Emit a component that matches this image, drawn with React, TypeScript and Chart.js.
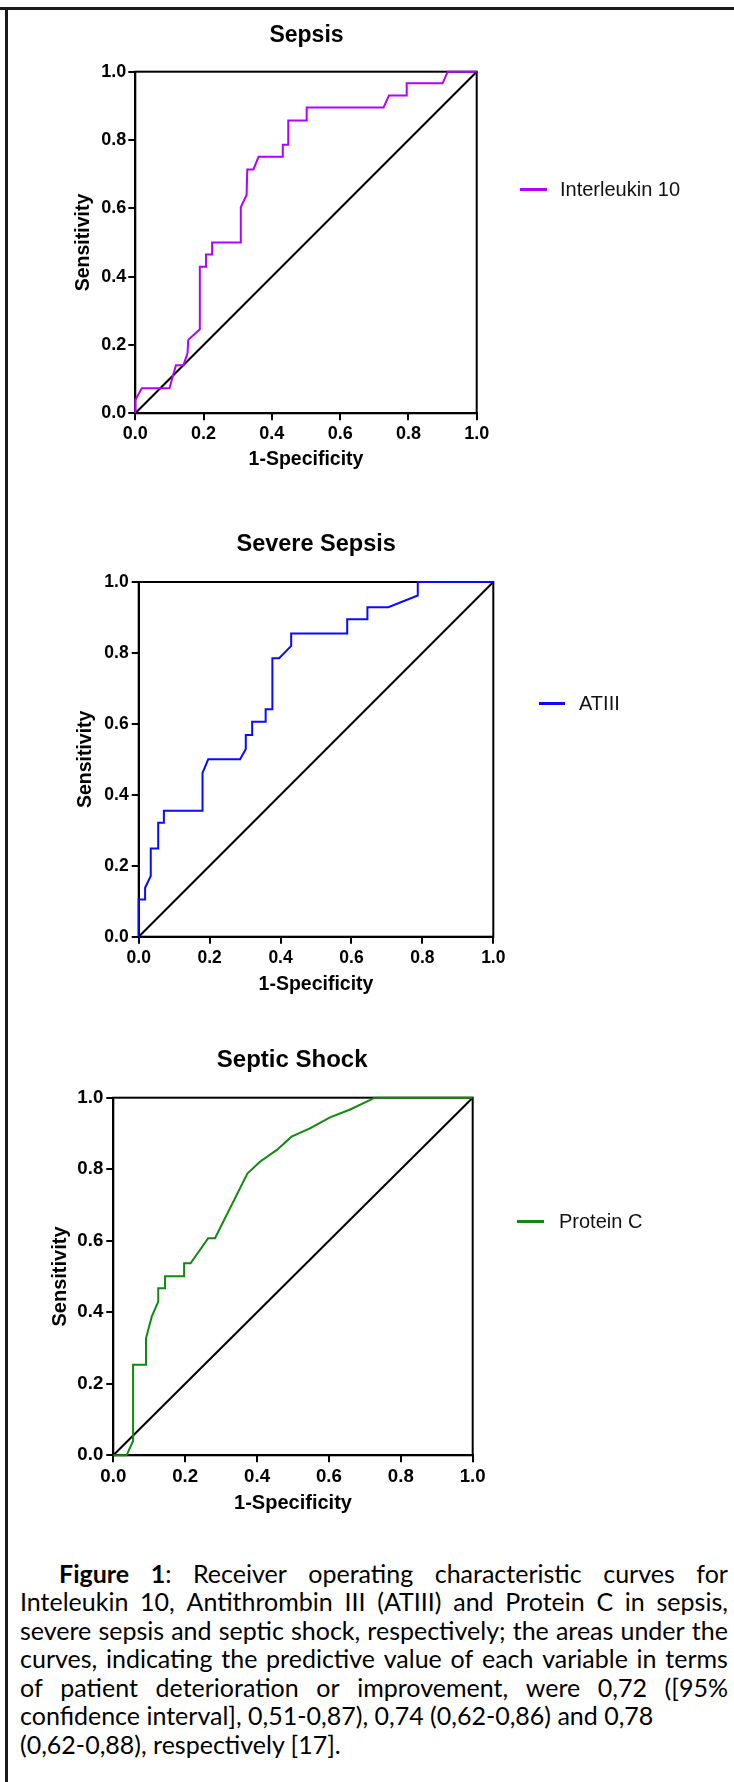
import React, { useEffect, useRef } from "react";
import { Chart, registerables } from "chart.js";

Chart.register(...registerables);

// ---------- data ----------
const tickValues = [0, 0.2, 0.4, 0.6, 0.8, 1.0];
const xAxisLabel = "1-Specificity";
const yAxisLabel = "Sensitivity";

const chanceFpr = [0, 1];
const chanceTpr = [0, 1];

// Sepsis — Interleukin 10
const il10Fpr = [0, 0, 0.019, 0.10, 0.119, 0.141, 0.153, 0.155, 0.189, 0.189, 0.207, 0.207, 0.225, 0.225, 0.309, 0.309, 0.326, 0.328, 0.346, 0.361, 0.432, 0.432, 0.448, 0.448, 0.502, 0.502, 0.727, 0.743, 0.795, 0.795, 0.9, 0.915, 1];
const il10Tpr = [0, 0.039, 0.073, 0.073, 0.141, 0.141, 0.176, 0.215, 0.246, 0.429, 0.429, 0.465, 0.465, 0.5, 0.5, 0.603, 0.639, 0.714, 0.714, 0.751, 0.751, 0.786, 0.786, 0.857, 0.857, 0.895, 0.895, 0.93, 0.93, 0.966, 0.966, 1, 1];

// Severe sepsis — ATIII
const atiiiFpr = [0, 0, 0.018, 0.018, 0.034, 0.034, 0.055, 0.055, 0.071, 0.071, 0.18, 0.18, 0.196, 0.286, 0.302, 0.302, 0.32, 0.32, 0.358, 0.358, 0.377, 0.377, 0.396, 0.43, 0.43, 0.588, 0.588, 0.645, 0.645, 0.704, 0.787, 0.787, 1];
const atiiiTpr = [0, 0.105, 0.105, 0.138, 0.171, 0.249, 0.249, 0.321, 0.321, 0.355, 0.355, 0.462, 0.5, 0.5, 0.529, 0.569, 0.569, 0.606, 0.606, 0.641, 0.641, 0.785, 0.785, 0.82, 0.855, 0.855, 0.895, 0.895, 0.929, 0.929, 0.962, 1, 1];

// Septic shock — Protein C
const proteinCFpr = [0, 0.037, 0.055, 0.055, 0.091, 0.091, 0.107, 0.125, 0.125, 0.144, 0.144, 0.197, 0.197, 0.215, 0.264, 0.283, 0.373, 0.408, 0.455, 0.496, 0.547, 0.603, 0.659, 0.728, 1];
const proteinCTpr = [0, 0, 0.04, 0.253, 0.253, 0.327, 0.388, 0.43, 0.467, 0.467, 0.501, 0.501, 0.537, 0.537, 0.607, 0.607, 0.788, 0.821, 0.854, 0.891, 0.914, 0.945, 0.967, 1, 1];

const chartTitles = ["Sepsis", "Severe Sepsis", "Septic Shock"];
const seriesNames = ["Interleukin 10", "ATIII", "Protein C"];

const captionLead = "Figure 1";
const captionLines = [
  ": Receiver operating characteristic curves for",
  "Inteleukin 10, Antithrombin III (ATIII) and Protein C in sepsis,",
  "severe sepsis and septic shock, respectively; the areas under the",
  "curves, indicating the predictive value of each variable in terms",
  "of patient deterioration or improvement, were 0,72 ([95%",
  "confidence interval], 0,51-0,87), 0,74 (0,62-0,86) and 0,78",
  "(0,62-0,88), respectively [17].",
];

// ---------- layout / style ----------
const PAGE_W = 734;
const PAGE_H = 1782;
const FONT = "'Liberation Sans', Arial, Helvetica, sans-serif";

type Layout = {
  plot: { l: number; t: number; r: number; b: number };
  canvasTop: number;
  canvasH: number;
  yTitleX: number;
  xTitleY: number;
  axisTitleSize: number;
  tickSize: number;
  yTickPad: number;
  xTickPad: number;
  titleCx: number;
  titleCy: number;
  titleSize: number;
  legendLine: [number, number];
  legendY: number;
  legendTextX: number;
};

const layouts: Layout[] = [
  {
    plot: { l: 135.3, t: 71.7, r: 476.7, b: 413.3 },
    canvasTop: 40, canvasH: 440,
    yTitleX: 84, xTitleY: 459.5, axisTitleSize: 19.5,
    tickSize: 18, yTickPad: 2, xTickPad: 2.9,
    titleCx: 306.5, titleCy: 34.7, titleSize: 23,
    legendLine: [520, 547], legendY: 189, legendTextX: 560,
  },
  {
    plot: { l: 138.7, t: 582, r: 493.3, b: 936.7 },
    canvasTop: 555, canvasH: 455,
    yTitleX: 85.3, xTitleY: 985, axisTitleSize: 19.5,
    tickSize: 17.5, yTickPad: 3, xTickPad: 4.2,
    titleCx: 316.2, titleCy: 543.8, titleSize: 23.5,
    legendLine: [539, 565], legendY: 703, legendTextX: 579,
  },
  {
    plot: { l: 113.3, t: 1097.7, r: 472.7, b: 1455.3 },
    canvasTop: 1070, canvasH: 455,
    yTitleX: 60, xTitleY: 1503, axisTitleSize: 20,
    tickSize: 18.7, yTickPad: 3, xTickPad: 3.2,
    titleCx: 292.2, titleCy: 1058.3, titleSize: 24,
    legendLine: [517, 544], legendY: 1221, legendTextX: 559,
  },
];

const seriesColors = ["#B400FF", "#0A0AFF", "#0F8A0F"];

const framePlugin = {
  id: "frame",
  beforeDatasetsDraw(chart: any) {
    const { ctx, chartArea: a } = chart;
    ctx.save();
    ctx.strokeStyle = "#000";
    ctx.lineWidth = 2;
    ctx.strokeRect(a.left, a.top, a.right - a.left, a.bottom - a.top);
    ctx.restore();
  },
};

function RocChart(props: { fpr: number[]; tpr: number[]; name: string; color: string; layout: Layout }) {
  const { fpr, tpr, name, color, layout: L } = props;
  const ref = useRef<HTMLCanvasElement | null>(null);

  useEffect(() => {
    if (!ref.current) return;
    const lh = L.axisTitleSize * 1.2;
    const padLeft = L.yTitleX - lh / 2;
    const yWidth = L.plot.l - padLeft;
    const xBottom = L.xTitleY + lh / 2;
    const xHeight = xBottom - L.plot.b;
    const padBottom = L.canvasTop + L.canvasH - xBottom;
    const padTop = L.plot.t - L.canvasTop;
    const padRight = PAGE_W - L.plot.r;

    const tickFont = { family: FONT, size: L.tickSize, weight: "bold" as const };
    const titleFont = { family: FONT, size: L.axisTitleSize, weight: "bold" as const };
    const grid = { drawOnChartArea: false, drawTicks: true, tickLength: 7, color: "#000", lineWidth: 2 };
    const border = { display: true, color: "#000", width: 2 };
    const setTicks = (s: any) => { s.ticks = tickValues.map((v) => ({ value: v })); };

    const chart = new Chart(ref.current, {
      type: "scatter",
      data: {
        datasets: [
          {
            label: name,
            data: fpr.map((x, i) => ({ x, y: tpr[i] })),
            showLine: true,
            borderColor: color,
            backgroundColor: color,
            borderWidth: 2,
            pointRadius: 0,
            pointHoverRadius: 0,
            order: 0,
            clip: 4,
          } as any,
          {
            label: "Reference",
            data: chanceFpr.map((x, i) => ({ x, y: chanceTpr[i] })),
            showLine: true,
            borderColor: "#000",
            backgroundColor: "#000",
            borderWidth: 2,
            pointRadius: 0,
            pointHoverRadius: 0,
            order: 1,
            clip: 4,
          } as any,
        ],
      },
      options: {
        animation: false,
        responsive: false,
        maintainAspectRatio: false,
        events: [],
        layout: { padding: { left: padLeft, right: padRight, top: padTop, bottom: padBottom } },
        plugins: { legend: { display: false }, tooltip: { enabled: false }, title: { display: false } },
        scales: {
          x: {
            type: "linear",
            min: 0,
            max: 1,
            afterBuildTicks: setTicks,
            afterFit: (s: any) => { s.height = xHeight; },
            ticks: {
              font: tickFont,
              color: "#000",
              padding: L.xTickPad,
              maxRotation: 0,
              autoSkip: false,
              callback: (v: any) => Number(v).toFixed(1),
            },
            grid,
            border,
            title: { display: true, text: xAxisLabel, font: titleFont, color: "#000", padding: 0 },
          },
          y: {
            type: "linear",
            min: 0,
            max: 1,
            afterBuildTicks: setTicks,
            afterFit: (s: any) => { s.width = yWidth; },
            ticks: {
              font: tickFont,
              color: "#000",
              padding: L.yTickPad,
              autoSkip: false,
              callback: (v: any) => Number(v).toFixed(1),
            },
            grid,
            border,
            title: { display: true, text: yAxisLabel, font: titleFont, color: "#000", padding: 0 },
          },
        },
      } as any,
      plugins: [framePlugin],
    });
    return () => chart.destroy();
  }, []);

  return (
    <canvas
      ref={ref}
      width={PAGE_W}
      height={L.canvasH}
      style={{ position: "absolute", left: 0, top: L.canvasTop, width: PAGE_W, height: L.canvasH }}
    />
  );
}

function Title(props: { text: string; L: Layout }) {
  const { text, L } = props;
  return (
    <div
      style={{
        position: "absolute",
        left: L.titleCx - 200,
        width: 400,
        top: L.titleCy - 0.4885 * L.titleSize,
        textAlign: "center",
        fontFamily: FONT,
        fontWeight: "bold",
        fontSize: L.titleSize,
        lineHeight: `${L.titleSize}px`,
        color: "#000",
        whiteSpace: "nowrap",
      }}
    >
      {text}
    </div>
  );
}

function LegendEntry(props: { text: string; color: string; L: Layout }) {
  const { text, color, L } = props;
  const size = 20;
  return (
    <>
      <div
        style={{
          position: "absolute",
          left: L.legendLine[0],
          width: L.legendLine[1] - L.legendLine[0],
          top: L.legendY - 1.5,
          height: 3,
          background: color,
        }}
      />
      <div
        style={{
          position: "absolute",
          left: L.legendTextX,
          top: L.legendY - 0.4885 * size,
          fontFamily: FONT,
          fontSize: size,
          lineHeight: `${size}px`,
          color: "#111",
          whiteSpace: "nowrap",
        }}
      >
        {text}
      </div>
    </>
  );
}

function Caption() {
  const lineH = 28.55;
  const justified = [true, true, true, true, true, false, false];
  const leadWords = captionLead.split(" ");
  return (
    <div
      style={{
        position: "absolute",
        left: 20,
        width: 708,
        top: 1558.5,
        fontFamily: "Lato, 'Open Sans', sans-serif",
        fontSize: 25,
        lineHeight: `${lineH}px`,
        color: "#000",
      }}
    >
      {captionLines.map((line, i) => {
        let words: React.ReactNode[];
        if (i === 0) {
          const rest = line.split(" ");
          const punct = rest[0];
          words = [
            ...leadWords.slice(0, -1).map((w, k) => <b key={"l" + k}>{w}</b>),
            <span key="lead"><b>{leadWords[leadWords.length - 1]}</b>{punct}</span>,
            ...rest.slice(1).map((w, k) => <span key={k}>{w}</span>),
          ];
        } else {
          words = line.split(" ").map((w, k) => <span key={k}>{w}</span>);
        }
        if (justified[i]) {
          return (
            <div
              key={i}
              style={{
                height: lineH,
                display: "flex",
                justifyContent: "space-between",
                whiteSpace: "nowrap",
                paddingLeft: i === 0 ? 39 : 0,
              }}
            >
              {words}
            </div>
          );
        }
        return (
          <div key={i} style={{ height: lineH, whiteSpace: "nowrap" }}>
            {line}
          </div>
        );
      })}
    </div>
  );
}

export default function App() {
  const fprs = [il10Fpr, atiiiFpr, proteinCFpr];
  const tprs = [il10Tpr, atiiiTpr, proteinCTpr];
  return (
    <div
      style={{
        position: "absolute",
        left: 0,
        top: 0,
        width: PAGE_W,
        height: PAGE_H,
        overflow: "hidden",
        background: "#fff",
      }}
    >
      <div style={{ position: "absolute", left: 0, top: 7, width: PAGE_W, height: 3, background: "#1a1a1a" }} />
      <div style={{ position: "absolute", left: 5, top: 7, width: 3, height: PAGE_H - 7, background: "#1a1a1a" }} />
      {layouts.map((L, i) => (
        <React.Fragment key={i}>
          <RocChart fpr={fprs[i]} tpr={tprs[i]} name={seriesNames[i]} color={seriesColors[i]} layout={L} />
          <Title text={chartTitles[i]} L={L} />
          <LegendEntry text={seriesNames[i]} color={seriesColors[i]} L={L} />
        </React.Fragment>
      ))}
      <Caption />
    </div>
  );
}
